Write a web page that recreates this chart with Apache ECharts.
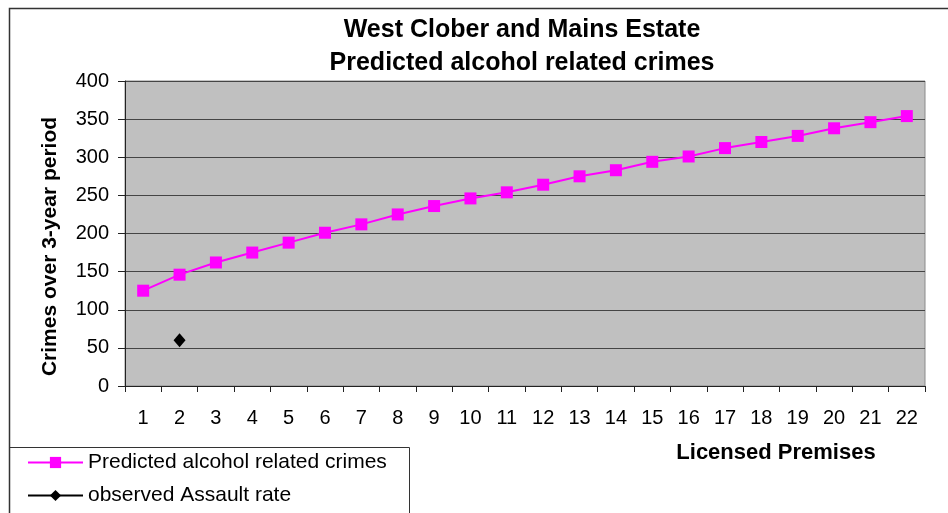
<!DOCTYPE html>
<html>
<head>
<meta charset="utf-8">
<script src="https://cdn.jsdelivr.net/npm/echarts@6/dist/echarts.min.js"></script>
<style>
	html, body { margin: 0; padding: 0; background: #fff; }
	#chart { width: 948px; height: 513px; }
</style>
</head>
<body>
<div id="chart"></div>
<script>
var premises = ['1', '2', '3', '4', '5', '6', '7', '8', '9', '10', '11', '12', '13', '14', '15', '16', '17', '18', '19', '20', '21', '22'];
var predicted = [125, 146, 162, 175, 188, 201, 212, 225, 236, 246, 254, 264, 275, 283, 294, 301, 312, 320, 328, 338, 346, 354];
var assault = [null, 60, null, null, null, null, null, null, null, null, null, null, null, null, null, null, null, null, null, null, null, null];

var font = 'Liberation Sans, Arial, sans-serif';
var myChart = echarts.init(document.getElementById('chart'));
var option = {
	animation: false,
	backgroundColor: '#fff',
	title: {
		text: 'West Clober and Mains Estate\nPredicted alcohol related crimes',
		left: 522,
		top: 14,
		padding: 0,
		textAlign: 'center',
		textStyle: {
			color: '#000',
			fontFamily: font,
			fontSize: 25,
			fontWeight: 'bold',
			lineHeight: 33
		}
	},
	legend: {
		orient: 'vertical',
		left: 7,
		top: 445,
		padding: [7, 16, 0, 20],
		itemGap: 12,
		itemWidth: 55,
		itemHeight: 14,
		textStyle: {
			color: '#000',
			fontFamily: font,
			fontSize: 21
		},
		data: ['Predicted alcohol related crimes', 'observed Assault rate']
	},
	graphic: [{
		// outer chart border
		type: 'rect',
		left: 7,
		top: 6,
		shape: { width: 1000, height: 600 },
		style: { fill: 'none', stroke: '#333', lineWidth: 1.5 },
		silent: true
	}, {
		// legend frame, runs off the bottom like the original
		type: 'rect',
		left: 7,
		top: 445,
		shape: { width: 400, height: 100 },
		style: { fill: 'none', stroke: '#333', lineWidth: 1 },
		silent: true
	}],
	grid: {
		left: 125,
		top: 81,
		right: 23,
		bottom: 127,
		show: true,
		backgroundColor: '#c0c0c0',
		borderColor: '#8a8a8a',
		borderWidth: 1
	},
	xAxis: {
		type: 'category',
		data: premises,
		boundaryGap: true,
		name: 'Licensed Premises',
		nameLocation: 'middle',
		nameGap: 56,
		nameTextStyle: {
			color: '#000',
			fontFamily: font,
			fontSize: 22,
			fontWeight: 'bold',
			padding: [0, 0, 0, 502]
		},
		axisLine: { lineStyle: { color: '#222', width: 1 } },
		axisTick: { show: true, length: 6, lineStyle: { color: '#222' } },
		axisLabel: {
			interval: 0,
			margin: 22,
			color: '#000',
			fontFamily: font,
			fontSize: 20
		},
		splitLine: { show: false }
	},
	yAxis: {
		type: 'value',
		min: 0,
		max: 400,
		interval: 50,
		name: 'Crimes over 3-year period',
		nameLocation: 'middle',
		nameGap: 64,
		nameTextStyle: {
			color: '#000',
			fontFamily: font,
			fontSize: 21,
			fontWeight: 'bold',
			padding: [0, 26, 0, 0]
		},
		axisLine: { show: true, lineStyle: { color: '#222', width: 1 } },
		axisTick: { show: true, length: 7, lineStyle: { color: '#222' } },
		axisLabel: {
			margin: 16,
			color: '#000',
			fontFamily: font,
			fontSize: 20
		},
		splitLine: { show: true, lineStyle: { color: '#454545', width: 1 } }
	},
	series: [{
		name: 'Predicted alcohol related crimes',
		type: 'line',
		data: predicted,
		symbol: 'rect',
		symbolSize: 12,
		showAllSymbol: true,
		lineStyle: { color: '#ff00ff', width: 2 },
		itemStyle: { color: '#ff00ff' }
	}, {
		name: 'observed Assault rate',
		type: 'line',
		data: assault,
		symbol: 'diamond',
		symbolSize: [12, 14],
		lineStyle: { color: '#000', width: 2 },
		itemStyle: { color: '#000' }
	}]
};
myChart.setOption(option);
</script>
</body>
</html>
